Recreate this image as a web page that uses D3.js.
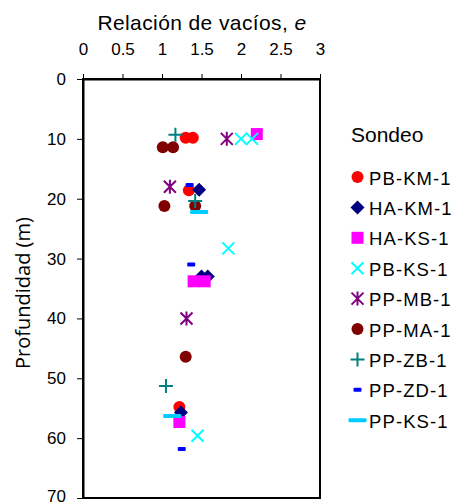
<!DOCTYPE html>
<html>
<head>
<meta charset="utf-8">
<script src="https://cdn.jsdelivr.net/npm/d3@7"></script>
<style>
  body { margin: 0; background: #fff; }
  text { font-family: "Liberation Sans", Arial, sans-serif; fill: #000; }
</style>
</head>
<body>
<div id="chart-area"></div>
<script>
// data: [relacion de vacios e, profundidad m]
var series = ["PB-KM-1", "HA-KM-1", "HA-KS-1", "PB-KS-1", "PP-MB-1", "PP-MA-1", "PP-ZB-1", "PP-ZD-1", "PP-KS-1"];
var pbkm1 = [[1.30, 9.8], [1.39, 9.8], [1.34, 18.6], [1.22, 54.8]];
var hakm1 = [[1.47, 18.5], [1.50, 33.0], [1.58, 33.0], [1.24, 55.7]];
var haks1 = [[2.20, 9.2], [1.40, 33.8], [1.54, 33.8], [1.22, 57.3]];
var pbks1 = [[2.00, 10.0], [2.14, 10.0], [1.84, 28.3], [1.45, 59.6]];
var ppmb1 = [[1.82, 10.0], [1.10, 18.0], [1.31, 40.0]];
var ppma1 = [[1.01, 11.4], [1.14, 11.4], [1.03, 21.2], [1.42, 21.2], [1.30, 46.4]];
var ppzb1 = [[1.17, 9.3], [1.42, 20.4], [1.05, 51.3]];
var ppzd1 = [[1.35, 17.7], [1.37, 31.0], [1.25, 61.8]];
var ppks1 = [[1.47, 22.2], [1.13, 56.3]];
var xTicks = [0, 0.5, 1, 1.5, 2, 2.5, 3];
var yTicks = [0, 10, 20, 30, 40, 50, 60, 70];

var seriesData = [pbkm1, hakm1, haks1, pbks1, ppmb1, ppma1, ppzb1, ppzd1, ppks1];
var colors = ["#ff0000", "#000080", "#ff00ff", "#00ffff", "#800080", "#800000", "#008080", "#0000ff", "#00ccff"];
var shapes = ["circle", "diamond", "square", "x", "star", "circle", "plus", "dash", "longdash"];

var svg = d3.select("#chart-area").append("svg")
    .attr("width", 454)
    .attr("height", 504);

var x = d3.scaleLinear().domain([0, 3]).range([83, 320]);
var y = d3.scaleLinear().domain([0, 70]).range([79, 498]);

// draw one marker into group g
function marker(g, shape, color) {
    if (shape == "circle") {
        g.append("circle").attr("r", 6).attr("fill", color);
    } else if (shape == "diamond") {
        g.append("path").attr("d", "M0,-7L7,0L0,7L-7,0Z").attr("fill", color);
    } else if (shape == "square") {
        g.append("rect").attr("x", -6).attr("y", -6).attr("width", 12).attr("height", 12).attr("fill", color);
    } else if (shape == "x") {
        g.append("path").attr("d", "M-6,-6L6,6M-6,6L6,-6").attr("stroke", color).attr("stroke-width", 2);
    } else if (shape == "star") {
        g.append("path").attr("d", "M-6,-6L6,6M-6,6L6,-6M0,-7L0,7").attr("stroke", color).attr("stroke-width", 2);
    } else if (shape == "plus") {
        g.append("path").attr("d", "M-7,0L7,0M0,-7L0,7").attr("stroke", color).attr("stroke-width", 2);
    } else if (shape == "dash") {
        g.append("rect").attr("x", -4).attr("y", -2).attr("width", 8).attr("height", 4).attr("rx", 1).attr("fill", color);
    } else if (shape == "longdash") {
        g.append("rect").attr("x", -9).attr("y", -2).attr("width", 18).attr("height", 4).attr("rx", 1).attr("fill", color);
    }
}

// plot frame
svg.append("rect")
    .attr("x", x(0)).attr("y", y(0))
    .attr("width", x(3) - x(0)).attr("height", y(70) - y(0))
    .attr("fill", "none").attr("stroke", "#000").attr("stroke-width", 2);

var xAxis = svg.append("g")
    .attr("transform", "translate(0," + y(0) + ")")
    .call(d3.axisTop(x).tickValues(xTicks).tickSize(5).tickSizeOuter(0).tickFormat(d3.format("")));
xAxis.select(".domain").attr("stroke-width", 2);
xAxis.selectAll("text").attr("font-size", 17).attr("y", -24);

var yAxis = svg.append("g")
    .attr("transform", "translate(" + x(0) + ",0)")
    .call(d3.axisLeft(y).tickValues(yTicks).tickSize(6).tickSizeOuter(0));
yAxis.select(".domain").attr("stroke-width", 2);
yAxis.selectAll("text").attr("font-size", 17).attr("x", -17)
    .attr("y", (d) => d == 70 ? -2 : 0); // keep the last label inside the page

svg.append("text")
    .attr("x", 202).attr("y", 30)
    .attr("text-anchor", "middle")
    .attr("font-size", 21)
    .attr("letter-spacing", 0.4)
    .html('Relación de vacíos, <tspan font-style="italic">e</tspan>');

svg.append("text")
    .attr("transform", "translate(30,293) rotate(-90)")
    .attr("text-anchor", "middle")
    .attr("font-size", 20)
    .style("font-family", "'Open Sans', sans-serif")
    .text("Profundidad (m)");

// points
seriesData.forEach((pts, i) => {
    svg.append("g").selectAll("g")
        .data(pts)
        .enter()
        .append("g")
        .attr("transform", (d) => "translate(" + x(d[0]) + "," + y(d[1]) + ")")
        .each(function () { marker(d3.select(this), shapes[i], colors[i]); });
});

// legend
svg.append("text").attr("x", 351).attr("y", 142).attr("font-size", 21).text("Sondeo");
var leg = svg.append("g").selectAll("g")
    .data(series)
    .enter()
    .append("g")
    .attr("transform", (d, i) => "translate(357.5," + (177 + i * 30.4) + ")");
leg.each(function (d, i) { marker(d3.select(this), shapes[i], colors[i]); });
leg.append("text")
    .attr("x", 11.5).attr("y", 7.5)
    .attr("font-size", 18.5)
    .attr("letter-spacing", 1.1)
    .text((d) => d);
</script>
</body>
</html>
